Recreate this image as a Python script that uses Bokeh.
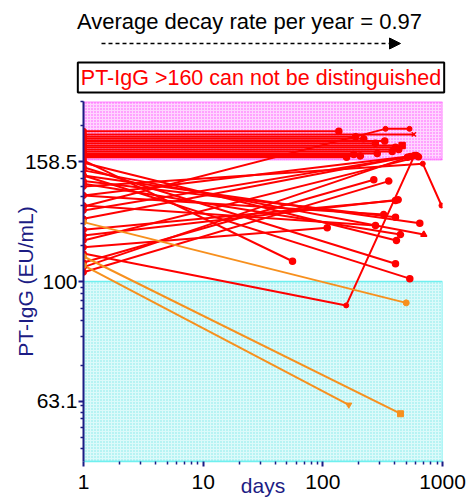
import numpy as np
from bokeh.plotting import figure
from bokeh.models import FixedTicker, NumeralTickFormatter, Label, Arrow, NormalHead, Range1d
from bokeh.embed import file_html
from bokeh.resources import INLINE

# ---------------- data ----------------
# subjects whose PT-IgG stayed above 160 (flat lines, first sample at day 1)
sat_val = [178.4, 176.2, 174.6, 173.3, 171.8, 170.3, 168.8, 167.7, 166.3, 165.0, 163.7, 163.0, 162.2, 161.3]
sat_end_day = [136, 576, 188, 220, 329, 275, 460, 405, 431, 380, 285, 181, 206, 158]
sat_marker = ["circle", "x", "circle", "circle", "circle", "circle", "square", "circle",
              "circle", "circle", "circle", "circle", "circle", "circle"]

# two-sample subjects (red): value at day 1, day of 2nd sample, 2nd value
red_start = [159.4, 155.3, 150.4, 158.0, 145.7, 153.4, 150.4, 147.2, 139.3, 134.0,
             122.0, 119.4, 103.6, 107.6, 114.1, 127.3, 139.3, 131.5, 105.7, 117.1]
red_end_day = [55.8, 404.7, 533, 412.6, 445.6, 697.7, 646, 404.7, 323.1, 275.4,
               404.7, 426.3, 355.8, 266.6, 108.8, 583.4, 606, 540, 510, 630]
red_end_val = [108.1, 107.1, 101.1, 117.1, 119.8, 119.8, 125.2, 128.1, 129.4, 124.1,
               136.6, 137.0, 147.2, 148.0, 123.0, 162.5, 162.5, 161.9, 161.3, 161.6]
red_marker = ["circle", "circle", "circle", "circle", "circle", "triangle", "circle", "circle",
              "circle", "circle", "circle", "circle", "circle", "circle", "circle", "circle",
              "circle", "circle", "circle", "circle"]

# three-sample subjects (red)
red3_days = [[1, 334, 530], [1, 684.4, 980.6], [1, 156.8, 583.4]]
red3_vals = [[133.5, 180.0, 180.0], [144.2, 157.4, 134.0], [111.4, 91.2, 162.5]]

# subjects dropping below 100 (orange)
or_start = [125.7, 110.1, 106.4]
or_end_day = [497.3, 445.6, 164.8]
or_end_val = [92.1, 60.1, 62.2]
or_marker = ["circle", "square", "inverted_triangle"]

# shaded bands
pink_band = [160, 200]
cyan_band = [50, 100]

x_major = [1, 10, 100, 1000]
x_minor = [2, 3, 4, 5, 6, 7, 8, 9, 20, 30, 40, 50, 60, 70, 80, 90, 200, 300, 400, 500, 600, 700, 800, 900]
y_major = [63.1, 100, 158.5]
y_minor = [52.5, 54.9, 57.1, 58.9, 60.4, 62.0, 72.4, 80.8, 86.1, 90.2, 93.0, 95.5, 97.9,
           115, 125, 134.2, 138.5, 143.9, 148.7, 152.5, 182, 200]

title_text = "Average decay rate per year = 0.97"
note_text = "PT-IgG >160 can not be distinguished"

# ---------------- styling ----------------
NAVY = "#1c1c84"
RED = "#ff0000"
ORANGE = "#f7901e"
FONT = "Liberation Sans"
W = 472
HEAD_H = 95
BL, BR = 83, 30   # left / right borders of the main plot

# ---------------- header (text, arrow, boxed note) ----------------
head = figure(frame_width=W, frame_height=HEAD_H, x_range=Range1d(0, W), y_range=Range1d(HEAD_H, 0),
              output_backend="svg", toolbar_location=None, x_axis_location=None,
              y_axis_location=None, min_border=0)
head.outline_line_color = None
head.grid.visible = False
head.add_layout(Label(x=249, y=21, text=title_text, text_align="center",
                      text_baseline="middle", text_font=FONT,
                      text_font_size="22px", text_color="black"))
head.add_layout(Arrow(end=NormalHead(size=11, fill_color="black", line_color="black"),
                      x_start=101, y_start=43, x_end=400, y_end=43,
                      line_dash="4 3", line_width=1.5, line_color="black"))
head.add_layout(Label(x=260.5, y=77, text=note_text, text_align="center",
                      text_baseline="middle", text_font=FONT, text_font_size="21.5px",
                      text_color=RED, border_line_color="black", border_line_width=2,
                      padding=3))

# ---------------- main plot ----------------
p = figure(frame_width=359, frame_height=360, x_axis_type="log", y_axis_type="log",
           x_range=(1, 1000), y_range=(50, 200), output_backend="svg", toolbar_location=None,
           min_border_left=BL, min_border_right=BR, min_border_top=6, min_border_bottom=43)
p.outline_line_color = None
p.grid.visible = False

p.quad(left=[1], right=[1000], bottom=[pink_band[0]], top=[pink_band[1]],
       fill_color="#ffd6ff", hatch_pattern="dot", hatch_color="#ff55ff", hatch_scale=3,
       hatch_weight=1, line_color="#ff33ff", line_width=2, line_dash="1 1")
p.quad(left=[1], right=[1000], bottom=[cyan_band[0]], top=[cyan_band[1]],
       fill_color="#dcfafa", hatch_pattern="dot", hatch_color="#7fe8e8", hatch_scale=3,
       hatch_weight=1, line_color="#70f0f0", line_width=1.5)

sat_xs = [[1, d] for d in sat_end_day]
sat_ys = [[v, v] for v in sat_val]
red_xs = [[1, d] for d in red_end_day] + red3_days
red_ys = [[a, b] for a, b in zip(red_start, red_end_val)] + red3_vals
p.multi_line(sat_xs, sat_ys, line_color=RED, line_width=2)
p.multi_line(red_xs, red_ys, line_color=RED, line_width=2)
or_xs = [[1, d] for d in or_end_day]
or_ys = [[a, b] for a, b in zip(or_start, or_end_val)]
p.multi_line(or_xs, or_ys, line_color=ORANGE, line_width=2)

starts_red = sat_val + red_start + [v[0] for v in red3_vals]
p.scatter([1] * len(starts_red), starts_red, size=6, color=RED)
p.scatter(sat_end_day, sat_val, marker=sat_marker, size=6, line_color=RED, fill_color=RED, line_width=1.5)
p.scatter(red_end_day, red_end_val, marker=red_marker, size=6, line_color=RED, fill_color=RED, line_width=1.5)
mid_x = [d for row in red3_days for d in row[1:]]
mid_y = [v for row in red3_vals for v in row[1:]]
p.scatter(mid_x, mid_y, size=5, color=RED)
p.scatter([1] * len(or_start), or_start, size=6, color=ORANGE)
p.scatter(or_end_day, or_end_val, marker=or_marker, size=6, line_color=ORANGE, fill_color=ORANGE)

p.xaxis.ticker = FixedTicker(ticks=x_major, minor_ticks=x_minor)
p.yaxis.ticker = FixedTicker(ticks=y_major, minor_ticks=y_minor)
p.xaxis.formatter = NumeralTickFormatter(format="0")
p.yaxis.formatter = NumeralTickFormatter(format="0.[0]")
for ax in (p.xaxis, p.yaxis):
    ax.major_label_text_font = FONT
    ax.major_label_text_font_size = "21px"
    ax.major_label_text_color = "black"
    ax.major_tick_line_color = NAVY
    ax.minor_tick_line_color = NAVY
    ax.major_tick_line_width = 2
    ax.minor_tick_line_width = 1.5
    ax.major_tick_in = 0
    ax.major_tick_out = 5
    ax.minor_tick_in = 0
    ax.minor_tick_out = 3
    ax.axis_label_text_font = FONT
    ax.axis_label_text_font_size = "21px"
    ax.axis_label_text_font_style = "normal"
    ax.axis_label_text_color = NAVY
p.yaxis.axis_line_color = NAVY
p.yaxis.axis_line_width = 2
p.xaxis.axis_line_color = "#70f0f0"
p.xaxis.axis_line_width = 1.5
p.yaxis.major_label_standoff = 1
p.xaxis.major_label_standoff = 8
p.xaxis.axis_label = "days"
p.xaxis.axis_label_standoff = -18
p.yaxis.axis_label = "PT-IgG (EU/mL)"
p.yaxis.axis_label_standoff = -15

# two separate roots (stacked), so the header frame is not aligned to the plot frame
open("out.html", "w").write(file_html([head, p], INLINE))
